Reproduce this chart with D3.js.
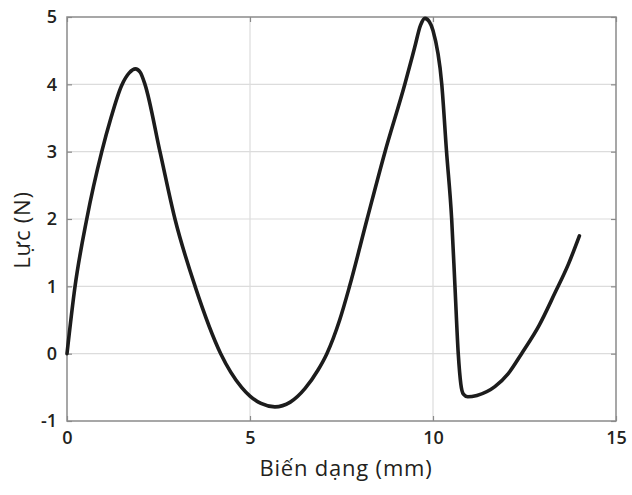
<!DOCTYPE html>
<html>
<head>
<meta charset="utf-8">
<script src="https://cdn.jsdelivr.net/npm/d3@7"></script>
<style>
  body { margin: 0; background: #fff; }
  text { font-family: "Open Sans", sans-serif; fill: #231f20; }
</style>
</head>
<body>
<script>
// deformation (mm) and force (N)
const bienDang = [0, 0.22, 0.54, 0.95, 1.2, 1.49, 1.7, 1.87, 2.0, 2.13, 2.54, 2.95, 3.5, 4.2,
  4.77, 5.0, 5.3, 5.68, 6.1, 6.5, 6.85, 7.1, 7.45, 7.72, 8.2, 8.69, 9.23, 9.5, 9.66, 9.78, 9.9, 10.0,
  10.24, 10.37, 10.51, 10.6, 10.69, 10.76, 10.83, 10.95, 11.2, 11.69, 12.05, 12.42, 12.9, 13.33, 13.7, 14.0];
const luc = [0, 1, 2, 3, 3.5, 3.98, 4.17, 4.23, 4.18, 4.0, 3.0, 2.0, 1.0, 0.0,
  -0.5, -0.63, -0.74, -0.79, -0.72, -0.52, -0.25, 0.0, 0.5, 1.0, 2.0, 3.0, 4.0, 4.55, 4.88, 4.98, 4.93, 4.8,
  4.0, 3.0, 2.0, 1.0, 0.0, -0.45, -0.6, -0.64, -0.62, -0.49, -0.3, 0.0, 0.42, 0.9, 1.33, 1.75];
const xTicks = [0, 5, 10, 15];
const yTicks = [-1, 0, 1, 2, 3, 4, 5];

const width = 632, height = 495;
const marginLeft = 67, marginRight = 16, marginTop = 17, marginBottom = 74;

const x = d3.scaleLinear().domain([0, 15]).range([marginLeft, width - marginRight]);
const y = d3.scaleLinear().domain([-1, 5]).range([height - marginBottom, marginTop]);

const svg = d3.create("svg")
    .attr("width", width)
    .attr("height", height)
    .attr("viewBox", `0 0 ${width} ${height}`);

// grid
svg.append("g")
    .selectAll("line")
    .data(xTicks.slice(1, -1))
    .join("line")
    .attr("x1", d => x(d)).attr("x2", d => x(d))
    .attr("y1", y(-1)).attr("y2", y(5))
    .attr("stroke", "#dcdcdc").attr("stroke-width", 1.2);

svg.append("g")
    .selectAll("line")
    .data(yTicks.slice(1, -1))
    .join("line")
    .attr("y1", d => y(d)).attr("y2", d => y(d))
    .attr("x1", x(0)).attr("x2", x(15))
    .attr("stroke", "#dcdcdc").attr("stroke-width", 1.2);

// axes (ticks inward, on all four sides)
const axisStyle = g => {
    g.select(".domain").remove();
    g.selectAll(".tick line").attr("stroke", "#8a8a8a").attr("stroke-width", 1.2);
    g.selectAll(".tick text").style("font-size", "18px").style("font-weight", 600);
};

svg.append("g")
    .attr("transform", `translate(0,${y(-1)})`)
    .call(d3.axisBottom(x).tickValues(xTicks).tickSizeInner(-5).tickPadding(10).tickFormat(d => String(d)))
    .call(axisStyle);

svg.append("g")
    .attr("transform", `translate(0,${y(5)})`)
    .call(d3.axisTop(x).tickValues(xTicks).tickSizeInner(-5).tickFormat(""))
    .call(axisStyle);

svg.append("g")
    .attr("transform", `translate(${x(0)},0)`)
    .call(d3.axisLeft(y).tickValues(yTicks).tickSizeInner(-5).tickPadding(10).tickFormat(d => String(d)))
    .call(axisStyle);

svg.append("g")
    .attr("transform", `translate(${x(15)},0)`)
    .call(d3.axisRight(y).tickValues(yTicks).tickSizeInner(-5).tickFormat(""))
    .call(axisStyle);

// frame
svg.append("rect")
    .attr("x", x(0)).attr("y", y(5))
    .attr("width", x(15) - x(0)).attr("height", y(-1) - y(5))
    .attr("fill", "none")
    .attr("stroke", "#8a8a8a")
    .attr("stroke-width", 1.5);

// curve
const pts = bienDang.map((d, i) => [d, luc[i]]);
svg.append("path")
    .datum(pts)
    .attr("fill", "none")
    .attr("stroke", "#1c1c1c")
    .attr("stroke-width", 3.6)
    .attr("stroke-linejoin", "round")
    .attr("stroke-linecap", "round")
    .attr("d", d3.line().x(d => x(d[0])).y(d => y(d[1])).curve(d3.curveMonotoneX));

// titles
svg.append("text")
    .attr("x", 346)
    .attr("y", 476)
    .attr("text-anchor", "middle")
    .style("font-size", "22px")
    .style("font-weight", 500)
    .style("letter-spacing", "0.8px")
    .text("Biến dạng (mm)");

svg.append("text")
    .attr("transform", "translate(30,230) rotate(-90)")
    .attr("text-anchor", "middle")
    .style("font-size", "22px")
    .style("font-weight", 500)
    .style("letter-spacing", "0.8px")
    .text("Lực (N)");

document.body.appendChild(svg.node());
</script>
</body>
</html>
